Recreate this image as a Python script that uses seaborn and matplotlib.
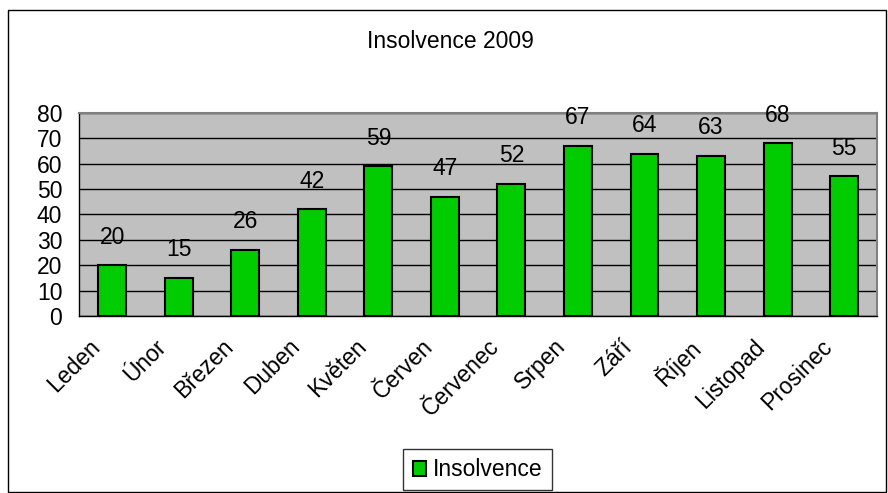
import matplotlib
matplotlib.use("Agg")
import matplotlib.pyplot as plt
import matplotlib.transforms as mtransforms
import seaborn as sns
import pandas as pd
from matplotlib.patches import Rectangle

# Data
months = ["Leden", "Únor", "Březen", "Duben", "Květen", "Červen",
          "Červenec", "Srpen", "Září", "Říjen", "Listopad", "Prosinec"]
values = [20, 15, 26, 42, 59, 47, 52, 67, 64, 63, 68, 55]
series_name = "Insolvence"
title = "Insolvence 2009"
y_ticks = [0, 10, 20, 30, 40, 50, 60, 70, 80]

sns.set_style("white")
plt.rcParams['font.family'] = ['Liberation Sans', 'DejaVu Sans']
plt.rcParams['text.color'] = 'black'
plt.rcParams['xtick.color'] = 'black'
plt.rcParams['ytick.color'] = 'black'

FS = 16.5

df = pd.DataFrame({"month": months, "value": values})

fig = plt.figure(figsize=(8.88, 4.93), dpi=100)
ax = fig.add_axes([0.089, 0.359, 0.899, 0.412])
ax.set_facecolor("#C0C0C0")

sns.barplot(data=df, x="month", y="value", ax=ax, color="#00CC00",
            edgecolor="black", linewidth=1.5, width=0.42, saturation=1,
            label=series_name, zorder=3)

ax.set_ylim(0, 80)
ax.set_xlim(-0.5, len(months) - 0.5)
ax.set_yticks(y_ticks)
ax.yaxis.grid(True, color="black", linewidth=1, zorder=0)
ax.set_axisbelow(True)
ax.set_xlabel("")
ax.set_ylabel("")

# ticks between categories on x
ax.set_xticks([i - 0.5 for i in range(len(months) + 1)], minor=True)
ax.tick_params(axis="x", which="minor", length=6, width=1, color="black", direction="out")
ax.tick_params(axis="x", which="major", length=0, pad=0)
ax.tick_params(axis="y", length=6, width=1, color="black", direction="out", labelsize=FS, pad=6)
ax.set_xticks(range(len(months)))
ax.set_xticklabels(months, rotation=45, ha="right", va="top",
                   rotation_mode="anchor", fontsize=FS)
shift = mtransforms.ScaledTranslation(-24 / 100, -19 / 100, fig.dpi_scale_trans)
for lbl in ax.get_xticklabels():
    lbl.set_transform(lbl.get_transform() + shift)

for side in ["left", "bottom"]:
    ax.spines[side].set_color("black")
    ax.spines[side].set_linewidth(1)
for side in ["top", "right"]:
    ax.spines[side].set_color("#808080")
    ax.spines[side].set_linewidth(1.5)

# data labels
for i, v in enumerate(values):
    ax.annotate(str(v), (i, v), xytext=(0, 12), textcoords="offset points",
                ha="center", va="bottom", fontsize=FS, annotation_clip=False)

fig.text(0.507, 0.915, title, ha="center", va="center", fontsize=FS)

leg = ax.legend(loc="center", bbox_to_anchor=(0.538, 0.047),
                bbox_transform=fig.transFigure, frameon=True, fontsize=FS,
                handlelength=0.6, handleheight=0.6, handletextpad=0.3,
                borderpad=0.4, fancybox=False)
leg.get_frame().set_edgecolor("black")
leg.get_frame().set_linewidth(1)

# outer chart frame
fig.patches.append(Rectangle((8 / 888, 1 / 493), 878 / 888, 482 / 493,
                             transform=fig.transFigure, fill=False,
                             edgecolor="black", linewidth=1))

fig.savefig("out.png", dpi=100)
